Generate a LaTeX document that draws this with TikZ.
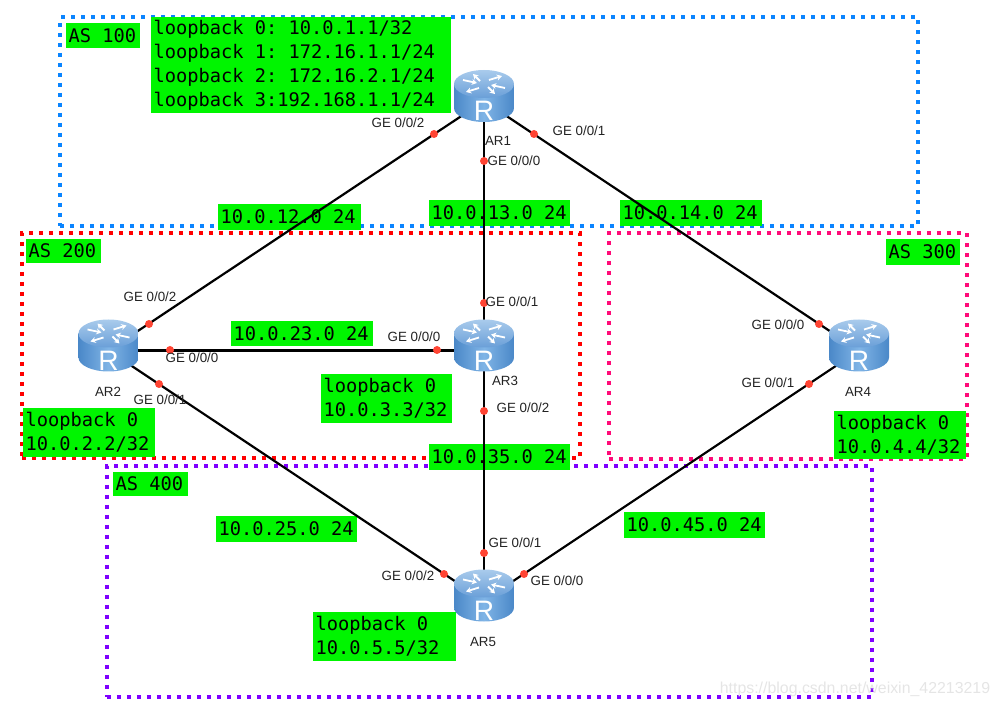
\documentclass[tikz,border=0pt]{standalone}
\usepackage{fontspec}
\setmainfont{Liberation Sans}
\newfontfamily\tagfont{DejaVu Sans Mono}
\usetikzlibrary{arrows.meta, backgrounds}
\definecolor{tagGreen}{HTML}{00F500}
\definecolor{asBlue}{HTML}{0A84FF}
\definecolor{asRed}{HTML}{FF0000}
\definecolor{asPink}{HTML}{FF0A78}
\definecolor{asPurple}{HTML}{7F00FF}
\definecolor{dotRed}{HTML}{FF4433}
\definecolor{portText}{HTML}{222222}
\definecolor{routerEdge}{HTML}{4A88C8}
\definecolor{routerMid}{HTML}{80B4E6}
\definecolor{routerTop}{HTML}{A9CBEC}
\definecolor{routerRim}{HTML}{6A9FD8}

\begin{document}
\begin{tikzpicture}[
    x=0.25mm, y=-0.25mm,
    % Node Styles
    region/.style={
        rectangle,
        draw=#1,
        line width=1mm,
        dash pattern=on 1mm off 1.5mm,
        inner sep=0pt
    },
    tag/.style n args={2}{
        rectangle,
        fill=tagGreen,
        text=black,
        font=\tagfont\fontsize{13.3}{17}\selectfont\frenchspacing,
        align=flush left,
        text width=(#1-5)*0.25mm,
        minimum height=#2*0.25mm,
        inner xsep=2.5*0.25mm,
        inner ysep=0pt
    },
    port/.style={
        text=portText,
        font=\fontsize{9.5}{11}\selectfont,
        inner sep=0pt
    },
    portdot/.style={
        circle,
        fill=dotRed,
        minimum size=2mm,
        inner sep=0pt
    },
    router/.style={
        rectangle,
        minimum width=15mm,
        minimum height=15.5mm,
        inner sep=0pt,
        path picture={
            \begin{scope}[shift={(path picture bounding box.center)}]
                % body, then lid
                \shade[left color=routerEdge, right color=routerEdge, middle color=routerMid]
                    (-30,-17) -- (-30,7) arc[start angle=180, end angle=0, x radius=30, y radius=14]
                    -- (30,-17) -- cycle;
                \shade[top color=routerTop, bottom color=routerRim]
                    (0,-17) ellipse[x radius=30, y radius=14];
                % arrows on the lid
                \draw[lid arrow] (-4,-20) -- (-11,-27);
                \draw[lid arrow] (4,-14) -- (11,-7);
                \draw[lid arrow] (-21,-21) -- (-7,-18);
                \draw[lid arrow] (21,-13) -- (7,-16);
                \draw[lid arrow] (5,-21) -- (18,-25);
                \draw[lid arrow] (-5,-13) -- (-18,-9);
                \node[text=white, font=\fontsize{20}{20}\selectfont, inner sep=0pt] at (0,10) {R};
            \end{scope}
        }
    },
    lid arrow/.style={
        -{Stealth[length=1.3mm, width=1.5mm]},
        draw=white,
        line width=0.45mm
    },
    % Link Style
    link/.style={
        draw=black,
        line width=0.55mm
    }
]
    \useasboundingbox (0,0) rectangle (1000,707);

    % --- Routers ---
    \node[router] (ar1) at (484,101) {};
    \node[router] (ar2) at (108.5,350.5) {};
    \node[router] (ar3) at (484,350.5) {};
    \node[router] (ar4) at (859,350.5) {};
    \node[router] (ar5) at (484,600.5) {};

    \begin{pgfonlayer}{background}
    % --- AS regions ---
    \node[region=asBlue, minimum width=214.4mm, minimum height=52.25mm] (as100) at (489.25,121.5) {};
    \node[region=asRed, minimum width=139.5mm, minimum height=56.25mm] (as200) at (301,345.5) {};
    \node[region=asPink, minimum width=89.5mm, minimum height=56.5mm] (as300) at (788,346) {};
    \node[region=asPurple, minimum width=191.25mm, minimum height=57.75mm] (as400) at (489.5,581.5) {};

    % --- Green tags ---
    \node[tag={74}{25}] (name100) at (103,35.5) {AS 100};
    \node[tag={75}{24}] (name200) at (63.5,251) {AS 200};
    \node[tag={74}{26}] (name300) at (923,252) {AS 300};
    \node[tag={75}{24}] (name400) at (150.5,484) {AS 400};

    \node[tag={300}{96}] (loop1) at (301,65) {loopback 0: 10.0.1.1/32\\loopback 1: 172.16.1.1/24\\loopback 2: 172.16.2.1/24\\loopback 3:192.168.1.1/24};
    \node[tag={132}{49}] (loop2) at (89,432.5) {loopback 0\\10.0.2.2/32};
    \node[tag={131}{49}] (loop3) at (386.5,398.5) {loopback 0\\10.0.3.3/32};
    \node[tag={132}{48}] (loop4) at (900,435) {loopback 0\\10.0.4.4/32};
    \node[tag={143}{49}] (loop5) at (384.5,636.5) {loopback 0\\10.0.5.5/32};

    \node[tag={143}{26}] (net12) at (289.5,217) {10.0.12.0 24};
    \node[tag={141}{26}] (net13) at (499.5,213) {10.0.13.0 24};
    \node[tag={142}{26}] (net14) at (691,213) {10.0.14.0 24};
    \node[tag={142}{25}] (net23) at (302,333.5) {10.0.23.0 24};
    \node[tag={141}{26}] (net35) at (499.5,457) {10.0.35.0 24};
    \node[tag={141}{26}] (net25) at (286.5,529) {10.0.25.0 24};
    \node[tag={141}{26}] (net45) at (694.5,525) {10.0.45.0 24};

    % --- Links ---
    \draw[link] (ar1.center) -- (ar2.center);
    \draw[link] (ar1.center) -- (ar3.center);
    \draw[link] (ar1.center) -- (ar4.center);
    \draw[link] (ar2.center) -- (ar3.center);
    \draw[link] (ar2.center) -- (ar5.center);
    \draw[link] (ar3.center) -- (ar5.center);
    \draw[link] (ar4.center) -- (ar5.center);
    \end{pgfonlayer}

    % --- Router names ---
    \node[port] (name1) at (498,141) {AR1};
    \node[port] (name2) at (108,392) {AR2};
    \node[port] (name3) at (505,381) {AR3};
    \node[port] (name4) at (858,392) {AR4};
    \node[port] (name5) at (483,642) {AR5};

    % --- Port dots ---
    \node[portdot] (dot12) at (434,134) {};
    \node[portdot] (dot10) at (484,161) {};
    \node[portdot] (dot11) at (534,134) {};
    \node[portdot] (dot22) at (149,324) {};
    \node[portdot] (dot20) at (170,350) {};
    \node[portdot] (dot21) at (159,384) {};
    \node[portdot] (dot30) at (437,350) {};
    \node[portdot] (dot31) at (484,303) {};
    \node[portdot] (dot32) at (484,411) {};
    \node[portdot] (dot40) at (819,324) {};
    \node[portdot] (dot41) at (809,384) {};
    \node[portdot] (dot52) at (444,574) {};
    \node[portdot] (dot51) at (484,553) {};
    \node[portdot] (dot50) at (524,574) {};

    % --- Port labels ---
    \node[port] (ge12) at (398,123) {GE 0/0/2};
    \node[port] (ge10) at (514,161) {GE 0/0/0};
    \node[port] (ge11) at (579,131) {GE 0/0/1};
    \node[port] (ge22) at (150,297) {GE 0/0/2};
    \node[port] (ge20) at (192,358) {GE 0/0/0};
    \node[port] (ge21) at (160,400) {GE 0/0/1};
    \node[port] (ge30) at (414,337) {GE 0/0/0};
    \node[port] (ge31) at (512,302) {GE 0/0/1};
    \node[port] (ge32) at (523,408) {GE 0/0/2};
    \node[port] (ge40) at (778,325) {GE 0/0/0};
    \node[port] (ge41) at (768,383) {GE 0/0/1};
    \node[port] (ge52) at (408,576) {GE 0/0/2};
    \node[port] (ge51) at (515,543) {GE 0/0/1};
    \node[port] (ge50) at (557,581) {GE 0/0/0};

    % Watermark
    \node[text=black!10, font=\fontsize{11.3}{13}\selectfont, inner sep=0pt] (mark) at (855,689) {https://blog.csdn.net/weixin\_42213219};

\end{tikzpicture}
\end{document}
